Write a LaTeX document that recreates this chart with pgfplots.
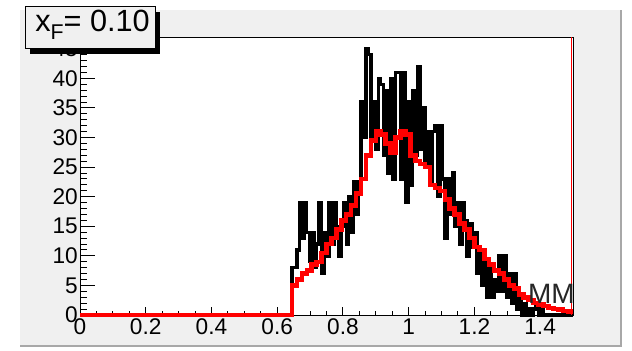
\documentclass[border=0pt]{standalone}
\usepackage{fontspec}
\setmainfont{Liberation Sans}
\usepackage{pgfplots}
\usepackage{pgfplotstable}
\pgfplotsset{compat=1.18}
\definecolor{canvas}{HTML}{F0F0F0}
\definecolor{edge}{HTML}{A8A8A8}

% measured spectrum, bin width 0.0075 (left edges)
\pgfplotstableread{
x y
0 0
0.6450 8
0.6525 8
0.6600 11
0.6675 19
0.6750 13
0.6825 19
0.6900 14
0.6975 9
0.7050 14
0.7125 8
0.7200 12
0.7275 19
0.7350 7
0.7425 14
0.7500 10
0.7575 19
0.7650 12
0.7725 19
0.7800 15
0.7875 10
0.7950 15
0.8025 19
0.8100 12
0.8175 20
0.8250 14
0.8325 22.5
0.8400 17
0.8475 22.5
0.8550 36
0.8625 30
0.8700 45
0.8775 44
0.8850 30
0.8925 36
0.9000 28
0.9075 40
0.9150 39
0.9225 27
0.9300 38
0.9375 24
0.9450 40
0.9525 23
0.9600 41
0.9675 41
0.9750 23
0.9825 41
0.9900 19
0.9975 36
1.0050 22
1.0125 38
1.0200 27
1.0275 42
1.0350 28
1.0425 35
1.0500 25
1.0575 31
1.0650 22
1.0725 31
1.0800 32
1.0875 20
1.0950 32
1.1025 23
1.1100 13
1.1175 23
1.1250 17
1.1325 24
1.1400 15
1.1475 19
1.1550 12
1.1625 19
1.1700 16
1.1775 10
1.1850 15.5
1.1925 11.5
1.2000 14
1.2075 7
1.2150 11
1.2225 5
1.2300 9
1.2375 3
1.2450 8
1.2525 3
1.2600 6
1.2675 4
1.2750 10
1.2825 4
1.2900 10
1.2975 3
1.3050 7
1.3125 2
1.3200 7
1.3275 1
1.3350 3
1.3425 0
1.3500 2
1.3575 0
1.3650 1
1.3725 0
1.3800 1
1.3875 2
1.3950 0
1.4025 1
1.4100 0
1.5000 0
}\datatab

% simulated spectrum, bin width 0.015 (left edges)
\pgfplotstableread{
x y
0 0
0.645 5.0
0.660 6.0
0.675 7.0
0.690 7.5
0.705 8.5
0.720 9.0
0.735 10.5
0.750 12.0
0.765 13.0
0.780 14.5
0.795 16.0
0.810 17.0
0.825 18.5
0.840 20.5
0.855 23.0
0.870 27.0
0.885 29.5
0.900 31.0
0.915 30.5
0.930 29.0
0.945 27.5
0.960 30.0
0.975 31.0
0.990 30.5
1.005 27.0
1.020 26.0
1.035 25.5
1.050 25.0
1.065 22.0
1.080 21.5
1.095 21.0
1.110 19.5
1.125 18.0
1.140 17.0
1.155 15.5
1.170 14.5
1.185 13.0
1.200 11.5
1.215 11.0
1.230 9.5
1.245 8.5
1.260 7.5
1.275 7.0
1.290 6.0
1.305 5.0
1.320 4.5
1.335 3.5
1.350 3.0
1.365 2.5
1.380 2.0
1.395 1.8
1.410 1.5
1.425 1.2
1.440 1.0
1.455 0.9
1.470 0.7
1.485 0.6
1.500 0.6
}\simtab

\pgfplotsset{
  framebox/.style={
    at={(60pt,26.25pt)}, anchor=south west,
    scale only axis, width=369.75pt, height=208.5pt,
    xmin=0, xmax=1.5, ymin=0, ymax=47,
    axis line style={line width=0.75pt, black},
    tick pos=left, tick align=inside,
    tick style={black, line width=0.75pt},
    /pgf/number format/assume math mode=true,
    tick label style={font=\fontsize{17}{17}\selectfont},
  },
}

\begin{document}
\begin{tikzpicture}[x=1pt,y=1pt]
% canvas and pad
\fill[white] (0,0) rectangle (474,262.5);
\fill[canvas] (15,2.25) rectangle (466.5,255);
\draw[edge, line width=1.5pt] (15,3) -- (465.75,3) -- (465.75,255);

% frame with the y scale (longer ticks)
\begin{axis}[
  framebox,
  axis background/.style={fill=white},
  xtick=\empty, minor x tick num=0,
  ytick={0,5,10,15,20,25,30,35,40,45},
  minor y tick num=4,
  major tick length=11.25pt, minor tick length=5.6pt,
  yticklabel style={inner sep=1.5pt},
]
\end{axis}

% x scale and the two spectra
\begin{axis}[
  framebox,
  clip=false,
  ytick=\empty, minor y tick num=0,
  xtick={0,0.2,0.4,0.6,0.8,1,1.2,1.4},
  xticklabels={0,0.2,0.4,0.6,0.8,1,1.2,1.4},
  minor x tick num=3,
  major tick length=6pt, minor tick length=3pt,
  xticklabel style={inner sep=2.5pt},
]
\addplot[black, line width=2.5pt, const plot, no marks] table[x=x, y=y] {\datatab};
\addplot[red, line width=3.4pt, const plot, no marks] table[x=x, y=y] {\simtab};
\draw[red, line width=0.9pt] ([xshift=-1pt]rel axis cs:1,0) -- ([xshift=-1pt]rel axis cs:1,1);
\draw[black, line width=0.75pt] (rel axis cs:1,0) -- (rel axis cs:1,1);
\node[anchor=base east, inner sep=0, text=black!85, font=\fontsize{21}{21}\selectfont] at (axis cs:1.506,2) {MM};
\end{axis}

% title box with drop shadow
\fill[black] (22.5,222) rectangle (120,253.5);
\filldraw[fill=canvas, draw=black, line width=0.75pt] (18.75,225.75) rectangle (116.25,257.25);
\node[anchor=base west, inner sep=0] at (26.25,238.7)
  {\fontsize{23}{24}\selectfont x\raisebox{-6pt}{\fontsize{16}{16}\selectfont F}= 0.10};
\end{tikzpicture}
\end{document}
